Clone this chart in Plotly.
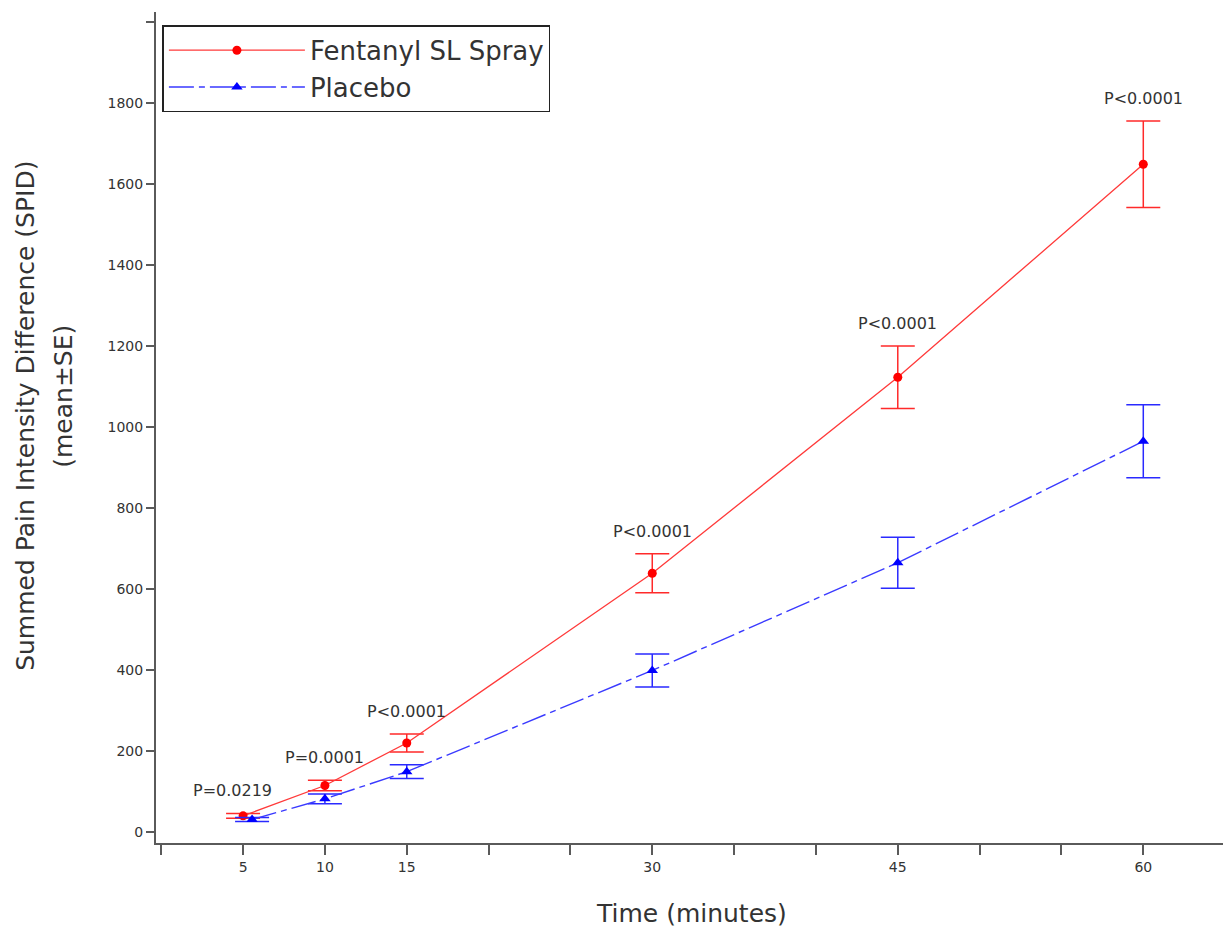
import plotly.graph_objects as go

# ---- data ----
time_fent = [5, 10, 15, 30, 45, 60]
time_plac = [5.55, 10, 15, 30, 45, 60]
fent_mean = [39, 114, 219, 638, 1122, 1648]
fent_se = [6, 13, 22, 48, 77, 107]
plac_mean = [30, 81, 148, 398, 664, 964]
plac_se = [5, 12, 17, 41, 63, 90]
p_labels = ["P=0.0219", "P=0.0001", "P<0.0001", "P<0.0001", "P<0.0001", "P<0.0001"]

x_tickvals = list(range(0, 70, 5))
x_labelled = [5, 10, 15, 30, 45, 60]
y_tickvals = list(range(0, 2200, 200))
y_labelled = list(range(0, 2000, 200))

FONT = "DejaVu Sans"
TXT = "#333333"
AX = "#5a5a5a"

fig = go.Figure()

fig.add_trace(go.Scatter(
    x=time_fent, y=fent_mean, name="Fentanyl SL Spray",
    mode="lines+markers",
    line=dict(color="#ff3a3a", width=1.3),
    marker=dict(color="#ff0000", size=9, symbol="circle"),
    error_y=dict(type="data", array=fent_se, color="#ff2a2a", thickness=1.5, width=17),
))
fig.add_trace(go.Scatter(
    x=time_plac, y=plac_mean, name="Placebo",
    mode="lines+markers",
    line=dict(color="#3a3aff", width=1.4, dash="25px,5px,6px,5px"),
    marker=dict(color="#0000ff", size=10, symbol="triangle-up"),
    error_y=dict(type="data", array=plac_se, color="#2a2aff", thickness=1.5, width=17),
))

annotations = []
for i, (t, m, s, lab) in enumerate(zip(time_fent, fent_mean, fent_se, p_labels)):
    annotations.append(dict(
        x=t, y=m + s, xref="x", yref="y", text=lab, showarrow=False,
        yanchor="bottom", xanchor="center", yshift=11, xshift=(-11 if i == 0 else 0),
        font=dict(family=FONT, size=16, color=TXT),
    ))

# axis titles
annotations.append(dict(
    x=0.502, y=0, xref="paper", yref="paper", text="Time (minutes)", showarrow=False,
    xanchor="center", yanchor="middle", yshift=-70,
    font=dict(family=FONT, size=25, color=TXT),
))
annotations.append(dict(
    x=0, y=0.514, xref="paper", yref="paper", text="Summed Pain Intensity Difference (SPID)",
    showarrow=False, textangle=-90, xanchor="center", yanchor="middle", xshift=-130,
    font=dict(family=FONT, size=25, color=TXT),
))
annotations.append(dict(
    x=0, y=0.537, xref="paper", yref="paper", text="(mean±SE)",
    showarrow=False, textangle=-90, xanchor="center", yanchor="middle", xshift=-92,
    font=dict(family=FONT, size=25, color=TXT),
))

fig.update_layout(
    width=1223, height=933,
    margin=dict(l=156, r=0, t=12, b=90),
    paper_bgcolor="white", plot_bgcolor="white",
    font=dict(family=FONT, color=TXT),
    showlegend=True,
    legend=dict(
        x=0.006, y=0.984, xanchor="left", yanchor="top",
        bordercolor="#222222", borderwidth=1.5, bgcolor="white",
        font=dict(family=FONT, size=26, color=TXT),
        itemwidth=136, tracegroupgap=0,
        entrywidth=410, entrywidthmode="pixels",
    ),
    annotations=annotations,
)

fig.update_xaxes(
    range=[-0.32, 64.87],
    tickmode="array", tickvals=x_tickvals,
    ticktext=[str(v) if v in x_labelled else "" for v in x_tickvals],
    ticks="outside", ticklen=10, tickwidth=1.5, tickcolor=AX,
    showline=True, linecolor=AX, linewidth=2,
    showgrid=False, zeroline=False,
    tickfont=dict(family=FONT, size=14, color=TXT),
)
fig.update_yaxes(
    range=[-28, 2024],
    tickmode="array", tickvals=y_tickvals,
    ticktext=[str(v) if v in y_labelled else "" for v in y_tickvals],
    ticks="outside", ticklen=8, tickwidth=1.5, tickcolor=AX,
    showline=True, linecolor=AX, linewidth=2,
    showgrid=False, zeroline=False,
    tickfont=dict(family=FONT, size=14, color=TXT),
)

fig.write_html("out.html")
